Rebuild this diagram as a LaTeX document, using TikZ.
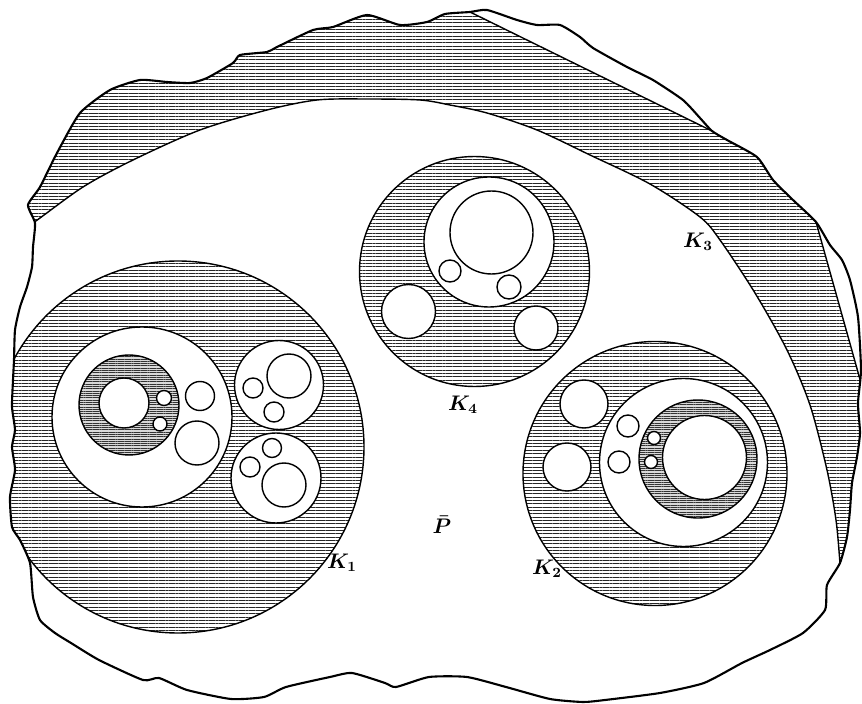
\documentclass[tikz,border=0pt]{standalone}
\usetikzlibrary{patterns.meta}

\newcommand{\rimpath}{plot[smooth cycle, tension=0.35] coordinates {
  (35,223) (28,205) (40,187) (57,153) (80,113) (110,90) (140,80) (167,82)
  (190,83) (207,78) (233,63) (240,55) (267,52) (277,47) (313,30) (333,27)
  (367,15) (400,25) (427,22) (445,14) (470,12) (487,10) (517,20) (537,25)
  (560,25) (580,37) (593,48) (627,67) (653,80) (683,100) (700,118) (712,131)
  (727,140) (757,157) (773,180) (793,200) (816,222) (830,245) (842,260)
  (850,280) (858,317) (861,370) (858,403) (860,433) (857,457) (852,483)
  (850,510) (847,537) (840,563) (827,585) (825,610) (803,633) (770,650)
  (742,663) (704,683) (660,693) (605,700) (583,702) (550,699) (506,687)
  (467,677) (429,677) (396,687) (385,683) (352,673) (330,677) (286,687)
  (264,697) (231,699) (187,690) (159,678) (143,680) (99,660) (71,643)
  (55,633) (40,620) (33,597) (30,563) (20,540) (12,527) (10,497) (15,470)
  (12,447) (15,430) (12,407) (13,380) (14,360) (15,330) (20,307) (27,287)
  (32,267) (33,247)}}

\tikzset{
  ring/.style={draw, line width=0.8pt},
  hatch/.style={ring, pattern={Lines[distance=1.9pt, line width=0.45pt]}, pattern color=black!85},
  dense/.style={ring, preaction={fill=black!15}, pattern={Lines[distance=1.3pt, line width=0.55pt]}, pattern color=black!80},
  hole/.style={ring, fill=white},
  lab/.style={font=\large\boldmath, inner sep=1pt}
}

\begin{document}
\begin{tikzpicture}[x=0.2mm, y=-0.2mm]

    \useasboundingbox (0,0) rectangle (862,704);
    \fill[white] (0,0) rectangle (862,704);

    \begin{scope}
    \clip \rimpath;

    % Band K3 between rim and arc
    \draw[hatch]
      plot[smooth, tension=0.5] coordinates {
        (15,233) (33,223) (83,187) (133,160) (200,130) (267,110) (317,100)
        (367,99) (420,100) (450,105) (487,113) (537,130) (590,155) (650,184)
        (700,217) (720,240) (755,293) (787,350) (810,405) (827,470) (836,520)
        (840,563) (843,598)
      } -- (950,598) -- (950,-60) -- (-60,-60) -- (-60,233) -- cycle;

    % Cut-off pieces at the upper right
    \fill[white] (470,12) -- (712,131) -- (950,-60) -- (470,-60) -- cycle;
    \fill[white] (816,222) -- (861,383) -- (950,383) -- (950,150) -- cycle;
    \draw[ring] (470,12) -- (712,131);
    \draw[ring] (816,222) -- (861,383);

    % K1, cut by the rim
    \draw[hatch] (178,447) circle (186);
    \end{scope}

    % Inside K1
    \draw[hole] (142,417) circle (90);
    \draw[dense] (129,405) circle (50);
    \draw[hole] (124,403) circle (25) (164,398) circle (7.5) (160,424) circle (7);
    \draw[hole] (200,396) circle (14.5) (197,443) circle (22);
    \draw[hole] (279,385) circle (44.5);
    \draw[ring] (289,376) circle (22) (253,388) circle (10) (274,412) circle (10);
    \draw[hole] (276,478) circle (45);
    \draw[ring] (284,485) circle (22) (272,448) circle (9.5) (250,467) circle (10);

    % K4
    \draw[hatch] (474.5,271.5) circle (115);
    \draw[hole] (489,242) circle (65);
    \draw[ring] (491.5,232.5) circle (41.5) (450,271) circle (11) (509,287) circle (12);
    \draw[hole] (408.5,311.5) circle (27) (536,328) circle (22);

    % K2
    \draw[hatch] (655,473.5) circle (132);
    \draw[hole] (584,404) circle (24) (567,467) circle (24);
    \draw[hole] (683.5,462.5) circle (84);
    \draw[ring] (628,426) circle (11) (619,462) circle (11);
    \draw[dense] (698,459) circle (59);
    \draw[hole] (704.5,457.5) circle (42) (654,438) circle (6.5) (651,462) circle (6.5);

    % Rim
    \draw[line width=1.2pt] \rimpath;

    % Labels
    \node[lab] (k1) at (342,563) {$K_1$};
    \node[lab] (k2) at (547,569) {$K_2$};
    \node[lab] (k3) at (698,242) {$K_3$};
    \node[lab] (k4) at (463,405) {$K_4$};
    \node[lab] (p) at (442,525) {$\bar{P}$};

\end{tikzpicture}
\end{document}
